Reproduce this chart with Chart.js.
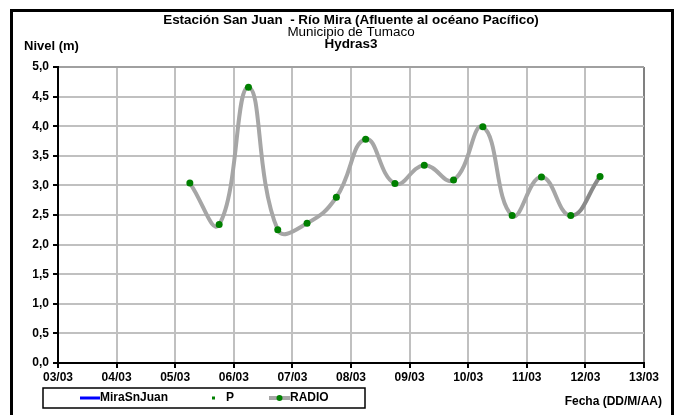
<!DOCTYPE html>
<html lang="es">
<head>
    <meta charset="UTF-8">
    <title>Estación San Juan - Río Mira</title>
    <script src="https://cdn.jsdelivr.net/npm/chart.js@4.4.1/dist/chart.umd.min.js"></script>
    <style>
        body { margin: 0; background: #fff; overflow: hidden; }
        .wrap { position: relative; width: 677px; height: 415px; overflow: hidden; }
        .frame {
            position: absolute; left: 10px; top: 9px; width: 658px; height: 420px;
            border: 3px solid #000; pointer-events: none;
        }
    </style>
</head>
<body>
<div class="wrap">
    <canvas id="nivelChart" width="677" height="415"></canvas>
    <div class="frame"></div>
</div>
<script>
// days counted from 03/03 (0 = 03/03 00:00)
const dateLabels = ['03/03', '04/03', '05/03', '06/03', '07/03', '08/03', '09/03', '10/03', '11/03', '12/03', '13/03'];
const radioDays = [2.25, 2.75, 3.25, 3.75, 4.25, 4.75, 5.25, 5.75, 6.25, 6.75, 7.25, 7.75, 8.25, 8.75, 9.25];
const radioNivel = [3.04, 2.34, 4.66, 2.25, 2.36, 2.80, 3.78, 3.03, 3.34, 3.09, 3.99, 2.49, 3.14, 2.49, 3.15];
const miraSnJuan = [];
const pValues = [];

const titleLines = [
    { text: 'Estación San Juan  - Río Mira (Afluente al océano Pacífico)', bold: true, y: 21 },
    { text: 'Municipio de Tumaco', bold: false, y: 33 },
    { text: 'Hydras3', bold: true, y: 45 }
];

const FONT = '"Liberation Sans", Arial, sans-serif';

// titles, axis names and the boxed legend
const decor = {
    id: 'decor',
    afterDraw(chart) {
        const ctx = chart.ctx;
        const area = chart.chartArea;
        const cx = (area.left + area.right) / 2;
        ctx.save();
        ctx.fillStyle = '#000';
        ctx.textBaseline = 'middle';
        ctx.textAlign = 'center';
        titleLines.forEach(l => {
            ctx.save();
            ctx.font = (l.bold ? 'bold ' : '') + '12px ' + FONT;
            ctx.translate(cx, l.y);
            ctx.scale(1.12, 1);   // Excel draws this text a bit wider
            ctx.fillText(l.text, 0, 0);
            ctx.restore();
        });

        ctx.font = 'bold 13px ' + FONT;
        ctx.textAlign = 'left';
        ctx.fillText('Nivel (m)', 24, 46);
        ctx.font = 'bold 12px ' + FONT;
        ctx.textAlign = 'right';
        ctx.fillText('Fecha (DD/M/AA)', 662, 402);

        // legend
        ctx.strokeStyle = '#000';
        ctx.lineWidth = 1.5;
        ctx.strokeRect(43, 388, 322, 20);
        const ly = 398;
        ctx.font = 'bold 12px ' + FONT;
        ctx.textAlign = 'left';

        ctx.strokeStyle = chart.data.datasets[0].borderColor;
        ctx.lineWidth = 3;
        ctx.beginPath(); ctx.moveTo(80, ly); ctx.lineTo(100, ly); ctx.stroke();
        ctx.fillText(chart.data.datasets[0].label, 100, ly);

        ctx.fillStyle = chart.data.datasets[1].pointBackgroundColor;
        ctx.fillRect(212, ly - 1.5, 3, 3);
        ctx.fillStyle = '#000';
        ctx.fillText(chart.data.datasets[1].label, 226, ly);

        ctx.strokeStyle = chart.data.datasets[2].borderColor;
        ctx.lineWidth = 4;
        ctx.beginPath(); ctx.moveTo(269, ly); ctx.lineTo(290, ly); ctx.stroke();
        ctx.fillStyle = chart.data.datasets[2].pointBackgroundColor;
        ctx.beginPath(); ctx.arc(279.5, ly, 3, 0, Math.PI * 2); ctx.fill();
        ctx.fillStyle = '#000';
        ctx.fillText(chart.data.datasets[2].label, 290, ly);
        ctx.restore();
    }
};

const ctx = document.getElementById('nivelChart').getContext('2d');
const nivelChart = new Chart(ctx, {
    type: 'line',
    data: {
        datasets: [
            {
                label: 'MiraSnJuan',
                data: miraSnJuan,
                borderColor: '#0000ff',
                borderWidth: 3,
                pointRadius: 0
            },
            {
                label: 'P',
                data: pValues,
                showLine: false,
                pointStyle: 'rect',
                pointRadius: 2,
                pointBackgroundColor: '#008000',
                pointBorderWidth: 0
            },
            {
                label: 'RADIO',
                data: radioDays.map((d, i) => ({ x: d, y: radioNivel[i] })),
                borderColor: '#a6a6a6',
                borderWidth: 4,
                tension: 0.45,
                pointRadius: 3.5,
                pointBackgroundColor: '#008000',
                pointBorderWidth: 0,
                segment: {
                    borderColor: c => c.p1DataIndex === radioNivel.length - 1 ? '#8a8a8a' : undefined
                }
            }
        ]
    },
    options: {
        responsive: false,
        animation: false,
        layout: { padding: { top: 67, right: 33, left: 0, bottom: 0 } },
        plugins: {
            legend: { display: false },
            title: { display: false },
            tooltip: { enabled: false }
        },
        scales: {
            x: {
                type: 'linear',
                min: 0,
                max: 10,
                afterFit: s => { s.height = 52; },
                ticks: {
                    stepSize: 1,
                    autoSkip: false,
                    maxRotation: 0,
                    padding: 2,
                    color: '#000',
                    font: { family: FONT, size: 12, weight: 'bold' },
                    callback: v => dateLabels[v]
                },
                grid: {
                    color: c => c.index === dateLabels.length - 1 ? '#808080' : '#c0c0c0',
                    lineWidth: 2,
                    tickColor: '#000',
                    tickLength: 5
                },
                border: { color: '#000', width: 2 }
            },
            y: {
                min: 0,
                max: 5,
                afterFit: s => { s.width = 58; },
                ticks: {
                    stepSize: 0.5,
                    padding: 4,
                    color: '#000',
                    font: { family: FONT, size: 12, weight: 'bold' },
                    callback: v => v.toFixed(1).replace('.', ',')
                },
                grid: {
                    color: c => c.tick && c.tick.value === 5 ? '#a0a0a0' : '#c0c0c0',
                    lineWidth: 2,
                    tickColor: '#000',
                    tickLength: 5
                },
                border: { color: '#000', width: 2 }
            }
        }
    },
    plugins: [decor]
});
</script>
</body>
</html>
